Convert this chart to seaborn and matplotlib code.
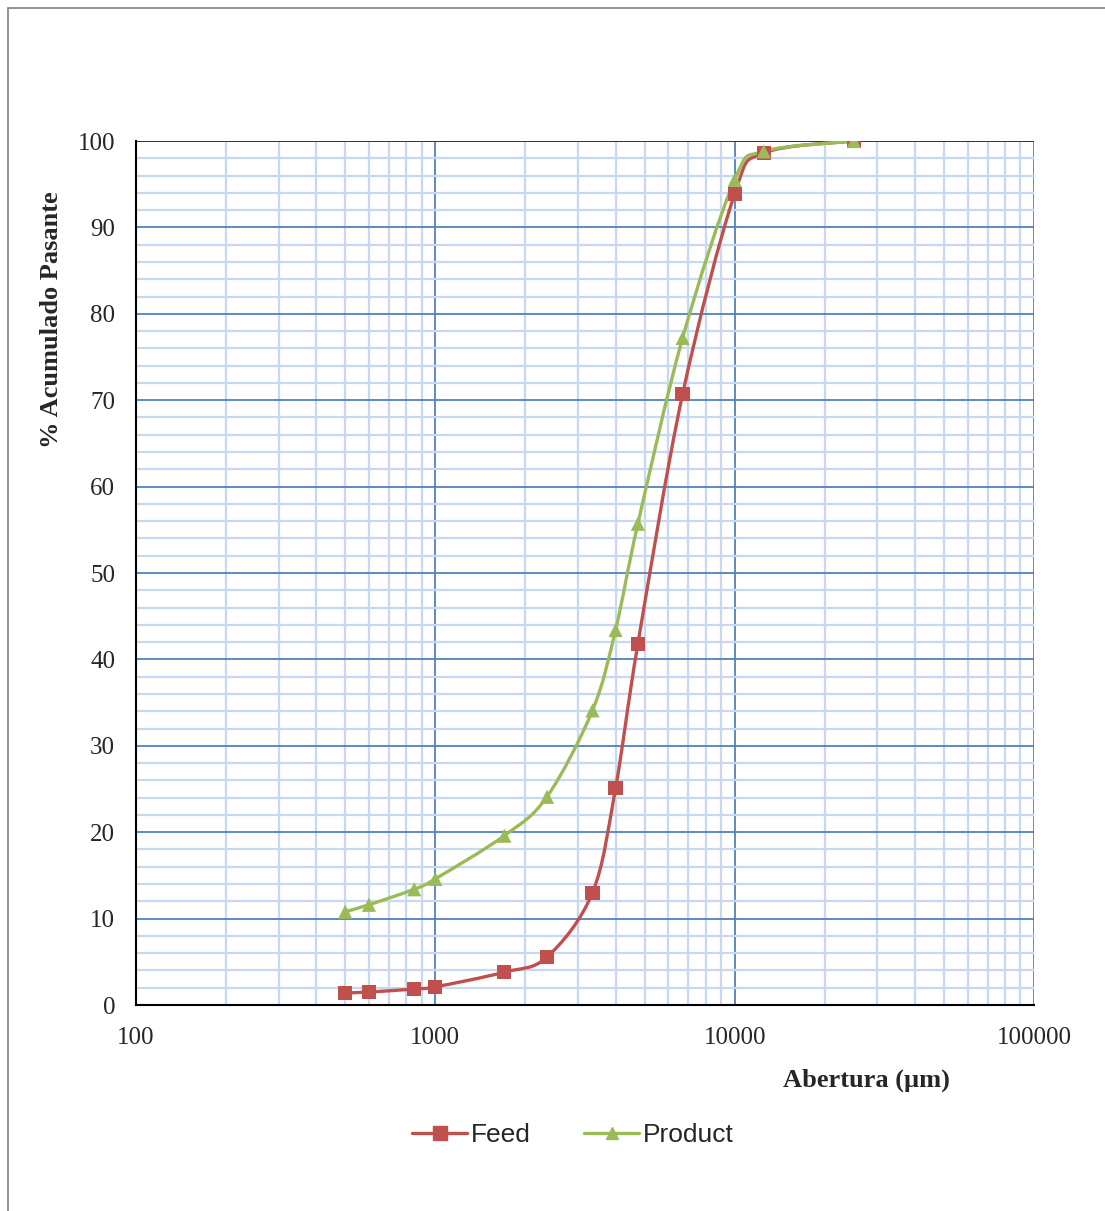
import numpy as np
import pandas as pd
import matplotlib
matplotlib.use("Agg")
import matplotlib.pyplot as plt
import seaborn as sns
from matplotlib.path import Path
from matplotlib.patches import PathPatch, Rectangle
from matplotlib.lines import Line2D
from matplotlib.ticker import FixedLocator, MultipleLocator, NullFormatter

# ---- data ----
abertura = [500, 600, 850, 1000, 1700, 2360, 3350, 4000, 4750, 6700, 10000, 12500, 25000]
feed = [1.4, 1.5, 1.85, 2.1, 3.8, 5.55, 13.0, 25.1, 41.8, 70.7, 93.9, 98.6, 100.0]
product = [10.8, 11.6, 13.4, 14.6, 19.6, 24.1, 34.1, 43.4, 55.7, 77.2, 95.5, 98.8, 100.0]
series_names = ["Feed", "Product"]
colors = {"Feed": "#C0504D", "Product": "#9BBB59"}
markers = {"Feed": "s", "Product": "^"}
x_ticklabels = ["100", "1000", "10000", "100000"]

df = pd.DataFrame({
    "x": abertura * 2,
    "y": feed + product,
    "serie": ["Feed"] * len(abertura) + ["Product"] * len(abertura),
})

sns.set_style("white")
plt.rcParams["font.family"] = ["Liberation Serif", "DejaVu Serif"]

fig = plt.figure(figsize=(11.05, 12.11), dpi=100)
ax = fig.add_axes([136 / 1105, 1 - 1005 / 1211, (1034 - 136) / 1105, (1005 - 141) / 1211])

ax.set_xscale("log")
ax.set_xlim(100, 100000)
ax.set_ylim(0, 100)

# grid
ax.xaxis.set_major_locator(FixedLocator([100, 1000, 10000, 100000]))
minor_x = [m * 10 ** d for d in range(2, 5) for m in range(2, 10)]
ax.xaxis.set_minor_locator(FixedLocator(minor_x))
ax.xaxis.set_minor_formatter(NullFormatter())
ax.yaxis.set_major_locator(MultipleLocator(10))
ax.yaxis.set_minor_locator(MultipleLocator(2))
ax.grid(which="minor", color="#C6D9F1", linewidth=1.6, zorder=0)
ax.grid(which="major", color="#4F81BD", linewidth=1.3, zorder=0.5)
ax.set_axisbelow(True)
ax.set_xticklabels(x_ticklabels)


def smooth_path(xs, ys):
    lx = np.log10(np.asarray(xs, float))
    yy = np.asarray(ys, float)
    n = len(lx)
    verts = [(lx[0], yy[0])]
    codes = [Path.MOVETO]
    for i in range(n - 1):
        p0 = np.array([lx[max(i - 1, 0)], yy[max(i - 1, 0)]])
        p1 = np.array([lx[i], yy[i]])
        p2 = np.array([lx[i + 1], yy[i + 1]])
        p3 = np.array([lx[min(i + 2, n - 1)], yy[min(i + 2, n - 1)]])
        c1 = p1 + (p2 - p0) / 6.0
        c2 = p2 - (p3 - p1) / 6.0
        verts += [tuple(c1), tuple(c2), tuple(p2)]
        codes += [Path.CURVE4] * 3
    verts = [(10 ** vx, vy) for vx, vy in verts]
    return Path(verts, codes)


for name in series_names:
    sub = df[df["serie"] == name]
    patch = PathPatch(smooth_path(sub["x"], sub["y"]), facecolor="none",
                      edgecolor=colors[name], linewidth=2.4, zorder=3, capstyle="round")
    ax.add_patch(patch)

sns.scatterplot(data=df, x="x", y="y", hue="serie", style="serie",
                palette=colors, markers=markers, s=105, edgecolor="none",
                legend=False, ax=ax, zorder=4)
ax.set_xlabel("")
ax.set_ylabel("")

# spines and ticks
for s in ["top", "right"]:
    ax.spines[s].set_visible(False)
for s in ["left", "bottom"]:
    ax.spines[s].set_color("black")
    ax.spines[s].set_linewidth(1.5)
    ax.spines[s].set_zorder(5)
ax.tick_params(axis="both", which="major", direction="out", length=6, width=1.3,
               color="black", labelsize=18, pad=4)
ax.tick_params(axis="both", which="minor", length=0)
ax.tick_params(axis="y", which="major", pad=9)
ax.tick_params(axis="x", which="major", pad=10)
ax.axhline(100, color="#1F3864", linewidth=1.4, zorder=1)

fig.text(52 / 1105, 1 - 320 / 1211, "% Acumulado Pasante", rotation=90, ha="center", va="center",
         fontsize=19, fontweight="bold")
fig.text(866 / 1105, 1 - 1080 / 1211, "Abertura (µm)", ha="center", va="center",
         fontsize=19, fontweight="bold")

handles = [Line2D([0], [0], color=colors[n], marker=markers[n], markersize=10 if n == "Feed" else 9,
                  linewidth=2.4, label=n) for n in series_names]
fig.legend(handles=handles, loc="center", bbox_to_anchor=(573 / 1105, 1 - 1135 / 1211),
           ncol=2, frameon=False, handlelength=2.1, handletextpad=0.15, columnspacing=2.0,
           prop={"family": "Liberation Sans", "size": 19})

fig.patches.append(Rectangle((8 / 1105, -0.01), 1.0, 1 - 8 / 1211 + 0.01, transform=fig.transFigure,
                             fill=False, edgecolor="#7F7F7F", linewidth=1.2))

fig.savefig("out.png", dpi=100)
